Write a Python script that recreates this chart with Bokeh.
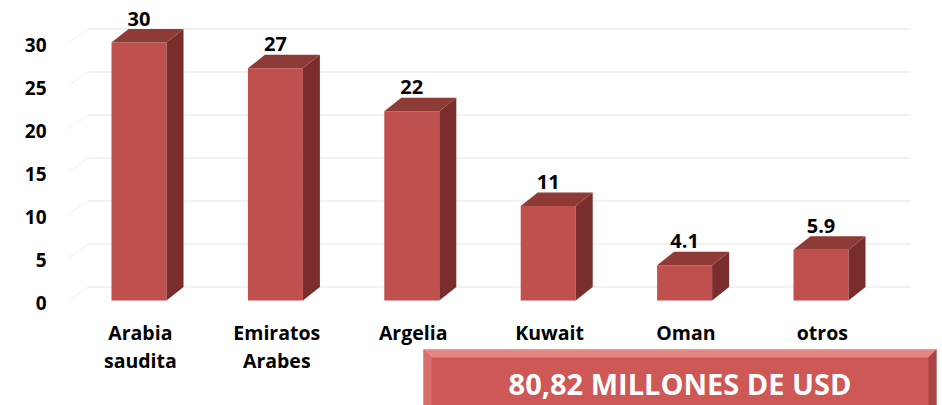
import numpy as np
from bokeh.plotting import figure
from bokeh.models import Range1d
from bokeh.core.properties import value
from bokeh.embed import file_html
from bokeh.resources import INLINE

# ---- data ----
categories = ["Arabia\nsaudita", "Emiratos\nArabes", "Argelia", "Kuwait", "Oman", "otros"]
values = [30, 27, 22, 11, 4.1, 5.9]
value_labels = ["30", "27", "22", "11", "4.1", "5.9"]
y_ticks = [0, 5, 10, 15, 20, 25, 30]
total_label = "80,82 MILLONES DE USD"

# ---- layout (pixel-based scale helpers) ----
W, H = 942, 405
PX = 136.4   # px per category unit
PY = 8.6     # px per value unit
X0 = -138.5 / PX
X1 = X0 + W / PX
Y0 = -(H - 300) / PY
Y1 = Y0 + H / PY

def px(xp):
    return X0 + xp / PX

def py(yp):
    return (300 - yp) / PY

DX = 17 / PX
DY = 13.5 / PY
HW = 27.5 / PX

FONT = value("Open Sans")
FRONT = "#C0504D"
TOP = "#8E3A37"
SIDE = "#7A2E2C"

p = figure(width=W, height=H, output_backend="svg", toolbar_location=None,
           x_range=Range1d(X0, X1), y_range=Range1d(Y0, Y1),
           min_border=0, outline_line_color=None)
p.xaxis.visible = False
p.yaxis.visible = False
p.xgrid.visible = False
p.ygrid.visible = False
p.background_fill_color = "white"
p.border_fill_color = "white"

# back-wall gridlines
xs = np.arange(len(values))
gx0, gx1, gs = px(88), px(910), px(68)
p.segment(x0=[gx0] * len(y_ticks), y0=[t + DY for t in y_ticks],
          x1=[gx1] * len(y_ticks), y1=[t + DY for t in y_ticks],
          line_color="#EDEDED", line_width=1.5)
p.segment(x0=[gs] * len(y_ticks), y0=y_ticks,
          x1=[gx0] * len(y_ticks), y1=[t + DY for t in y_ticks],
          line_color="#F4F4F4", line_width=1.5)

# y tick labels
p.text(x=[px(46)] * len(y_ticks), y=[t - 0.25 for t in y_ticks], text=[str(t) for t in y_ticks],
       text_align="right", text_baseline="middle", text_font=FONT,
       text_font_style="bold", text_font_size="19px", text_color="black")

# 3D bars
v = np.array(values, dtype=float)
p.quad(left=xs - HW, right=xs + HW, bottom=0, top=v, fill_color=FRONT, line_color=None)
side_x = [[i + HW, i + HW + DX, i + HW + DX, i + HW] for i in xs]
side_y = [[0, DY, val + DY, val] for val in v]
p.patches(side_x, side_y, fill_color=SIDE, line_color=None)
top_x = [[i - HW, i - HW + DX, i + HW + DX, i + HW] for i in xs]
top_y = [[val, val + DY, val + DY, val] for val in v]
p.patches(top_x, top_y, fill_color=TOP, line_color=None)

# value labels
p.text(x=xs, y=v + DY + 3.5 / PY, text=value_labels, text_align="center",
       text_baseline="bottom", text_font=FONT, text_font_style="bold",
       text_font_size="20px", text_color="black")

# category labels
p.text(x=xs + 0.01, y=[py(318)] * len(categories), text=categories, text_align="center",
       text_baseline="top", text_font=FONT, text_font_style="bold",
       text_font_size="19.5px", text_line_height=1.07, text_color="black")

# total box with bevel
bl, br, bt, bb = px(423), px(936), py(349), Y0
bv_x = 8 / PX
bv_y = 8 / PY
p.quad(left=[bl], right=[br], top=[bt], bottom=[bb], fill_color="#CD5856",
       line_color="#C4C4C4", line_width=1)
# top bevel
p.patches([[bl, br, br - bv_x, bl + bv_x]], [[bt, bt, bt - bv_y, bt - bv_y]],
          fill_color="#E48684", line_color=None)
# left bevel
p.patches([[bl, bl + bv_x, bl + bv_x, bl]], [[bt, bt - bv_y, bb, bb]],
          fill_color="#D96F6D", line_color=None)
# right bevel
p.patches([[br, br - bv_x, br - bv_x, br]], [[bt, bt - bv_y, bb, bb]],
          fill_color="#AA4543", line_color=None)
p.text(x=[(bl + br) / 2], y=[py(383)], text=[total_label], text_align="center",
       text_baseline="middle", text_font=FONT, text_font_style="bold",
       text_font_size="29px", text_color="white")

open("out.html", "w").write(file_html(p, INLINE))
